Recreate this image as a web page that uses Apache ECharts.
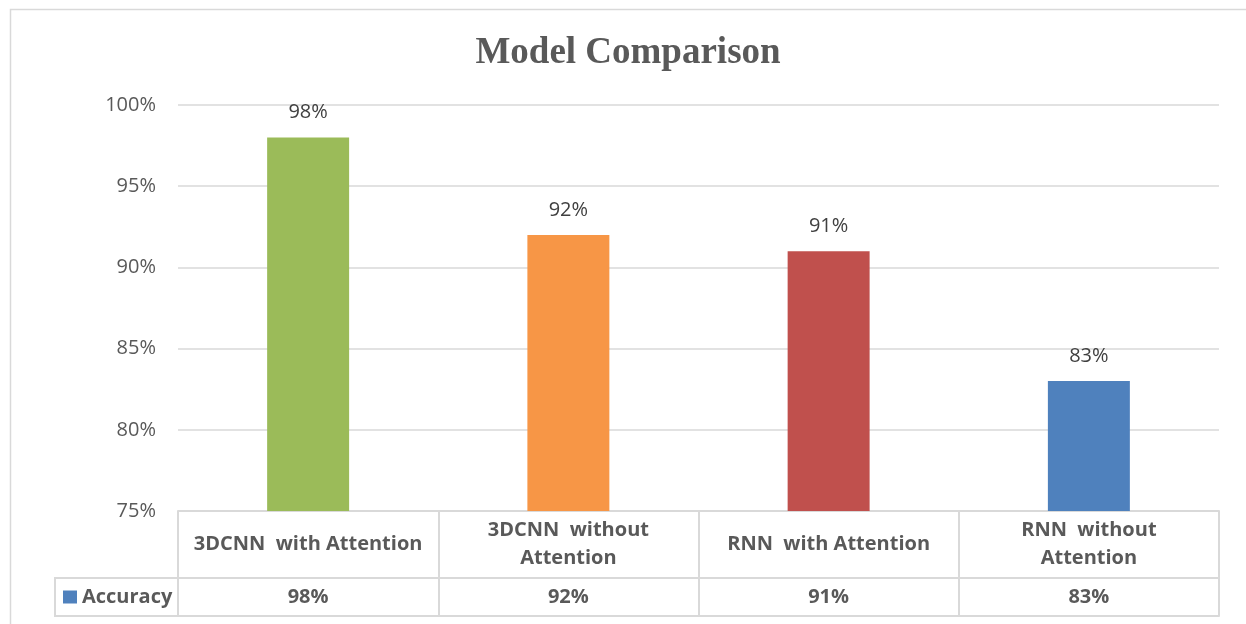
<!DOCTYPE html>
<html>
<head>
<meta charset="utf-8">
<script src="https://cdn.jsdelivr.net/npm/echarts@6/dist/echarts.min.js"></script>
<style>
  html, body { margin: 0; padding: 0; background: #fff; }
  #chart { width: 1246px; height: 624px; }
</style>
</head>
<body>
<div id="chart"></div>
<script>
// Model accuracy (%) per configuration
const categories = [
  '3DCNN  with Attention',
  '3DCNN  without\nAttention',
  'RNN  with Attention',
  'RNN  without\nAttention'
];
const accuracy = [98, 92, 91, 83];
const barColors = ['#9BBB59', '#F79646', '#C0504D', '#4F81BD'];
const yTicks = { min: 75, max: 100, step: 5 };
const seriesName = 'Accuracy';

// Layout of the plot and the data table beneath it
const W = 1246, H = 624;
const GRID_LEFT = 178, GRID_RIGHT = 27, GRID_TOP = 105, GRID_BOTTOM = 113;
const AXIS_Y = H - GRID_BOTTOM;      // top edge of the data table
const HEADER_H = 67;                 // category row height
const VALUE_H = 38;                  // value row height
const LEGEND_CELL_LEFT = 55;
const LINE = '#D9D9D9';
const TEXT = '#595959';
const FONT = '"Open Sans", "Liberation Sans", sans-serif';

const chart = echarts.init(document.getElementById('chart'), null, { renderer: 'canvas' });

const headerLabel = (val) => {
  const lines = String(val).split('\n');
  if (lines.length === 1) return '{one|' + lines[0] + '}';
  return lines.map(l => '{two|' + l + '}').join('\n');
};

const tableText = { color: TEXT, fontFamily: FONT, fontWeight: 'bold', fontSize: 20 };

chart.setOption({
  animation: false,
  title: {
    text: 'Model Comparison',
    left: 628,
    textAlign: 'center',
    top: 35,
    padding: 0,
    textStyle: {
      fontFamily: '"Liberation Serif", "Times New Roman", serif',
      fontWeight: 'bold',
      fontSize: 37,
      color: TEXT
    }
  },
  legend: {
    left: 63,
    top: AXIS_Y + HEADER_H + VALUE_H / 2 - 10,
    padding: 0,
    icon: 'rect',
    itemWidth: 14,
    itemHeight: 13,
    selectedMode: false,
    data: [seriesName],
    textStyle: tableText
  },
  grid: { left: GRID_LEFT, right: GRID_RIGHT, top: GRID_TOP, bottom: GRID_BOTTOM },
  xAxis: [
    {
      // category header row; ticks form the column dividers of the table
      type: 'category',
      data: categories,
      position: 'bottom',
      axisLine: { show: true, lineStyle: { color: LINE, width: 2 } },
      axisTick: { show: true, length: HEADER_H + VALUE_H, lineStyle: { color: LINE, width: 2 } },
      axisLabel: Object.assign({
        margin: 5,
        interval: 0,
        formatter: headerLabel,
        rich: {
          one: Object.assign({ lineHeight: 56 }, tableText),
          two: Object.assign({ lineHeight: 28 }, tableText)
        }
      }, tableText)
    },
    {
      // value row of the table
      type: 'category',
      data: categories,
      position: 'bottom',
      offset: HEADER_H,
      axisLine: { show: true, lineStyle: { color: LINE, width: 2 } },
      axisTick: { show: false },
      axisLabel: Object.assign({
        margin: 0,
        interval: 0,
        lineHeight: VALUE_H,
        formatter: (v, i) => accuracy[i] + '%'
      }, tableText)
    },
    {
      // bottom rule of the table
      type: 'category',
      data: categories,
      position: 'bottom',
      offset: HEADER_H + VALUE_H,
      axisLine: { show: true, lineStyle: { color: LINE, width: 2 } },
      axisTick: { show: false },
      axisLabel: { show: false }
    }
  ],
  yAxis: {
    type: 'value',
    min: yTicks.min,
    max: yTicks.max,
    interval: yTicks.step,
    axisLine: { show: false },
    axisTick: { show: false },
    axisLabel: {
      margin: 22,
      formatter: '{value}%',
      color: TEXT,
      fontFamily: FONT,
      fontSize: 20
    },
    splitLine: { lineStyle: { color: LINE, width: 1.5 } }
  },
  series: [{
    name: seriesName,
    type: 'bar',
    xAxisIndex: 0,
    barWidth: '31.5%',
    itemStyle: { color: '#4F81BD' },
    data: accuracy.map((v, i) => ({ value: v, itemStyle: { color: barColors[i] } })),
    label: {
      show: true,
      position: 'top',
      distance: 15,
      formatter: '{c}%',
      color: '#404040',
      fontFamily: FONT,
      fontSize: 20
    }
  }],
  graphic: [
    {
      // chart area border
      type: 'rect',
      silent: true,
      shape: { x: 10.5, y: 9.5, width: W + 100, height: H + 100 },
      style: { fill: null, stroke: LINE, lineWidth: 1.5 }
    },
    {
      // legend cell of the data table
      type: 'polyline',
      silent: true,
      shape: {
        points: [
          [GRID_LEFT, AXIS_Y + HEADER_H],
          [LEGEND_CELL_LEFT, AXIS_Y + HEADER_H],
          [LEGEND_CELL_LEFT, AXIS_Y + HEADER_H + VALUE_H],
          [GRID_LEFT, AXIS_Y + HEADER_H + VALUE_H]
        ]
      },
      style: { fill: null, stroke: LINE, lineWidth: 2 }
    }
  ]
});
</script>
</body>
</html>
